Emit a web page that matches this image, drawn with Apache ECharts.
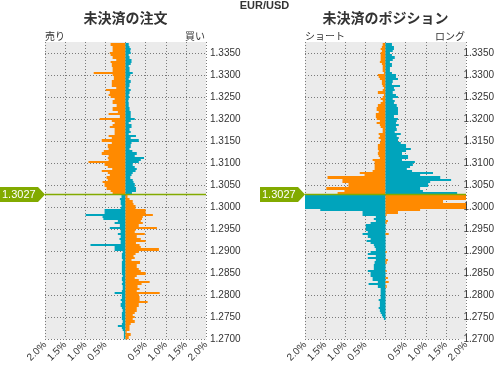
<!DOCTYPE html>
<html><head><meta charset="utf-8">
<script src="https://cdn.jsdelivr.net/npm/echarts@6/dist/echarts.min.js"></script>
<style>html,body{margin:0;padding:0;background:#fff}#c{width:497px;height:365px}</style>
</head><body><div id="c"></div>
<script>
const pair = 'EUR/USD';
const titleOrders = '未決済の注文';
const titlePositions = '未決済のポジション';
const sideLabels = ['売り', '買い', 'ショート', 'ロング'];
const currentPrice = 1.3027;
const priceTickMin = 1.2700, priceTickMax = 1.3350, priceTickStep = 0.005;
const pctMin = -2, pctMax = 2, pctStep = 0.5;

// price buckets above the current price (top -> down)
const levelsAbove = [1.3370,1.3365,1.3360,1.3355,1.3350,1.3345,1.3340,1.3335,1.3330,1.3325,
1.3320,1.3315,1.3310,1.3305,1.3300,1.3295,1.3290,1.3285,1.3280,1.3275,
1.3270,1.3265,1.3260,1.3255,1.3250,1.3245,1.3240,1.3235,1.3230,1.3225,
1.3220,1.3215,1.3210,1.3205,1.3200,1.3195,1.3190,1.3185,1.3180,1.3175,
1.3170,1.3165,1.3160,1.3155,1.3150,1.3145,1.3140,1.3135,1.3130,1.3125,
1.3120,1.3115,1.3110,1.3105,1.3100,1.3095,1.3090,1.3085,1.3080,1.3075,
1.3070,1.3065,1.3060,1.3055,1.3050,1.3045,1.3040,1.3035,1.3030];
// price buckets below the current price (top -> down)
const levelsBelow = [1.3025,1.3020,1.3015,1.3010,1.3005,1.3000,1.2995,1.2990,1.2985,1.2980,
1.2975,1.2970,1.2965,1.2960,1.2955,1.2950,1.2945,1.2940,1.2935,1.2930,
1.2925,1.2920,1.2915,1.2910,1.2905,1.2900,1.2895,1.2890,1.2885,1.2880,
1.2875,1.2870,1.2865,1.2860,1.2855,1.2850,1.2845,1.2840,1.2835,1.2830,
1.2825,1.2820,1.2815,1.2810,1.2805,1.2800,1.2795,1.2790,1.2785,1.2780,
1.2775,1.2770,1.2765,1.2760,1.2755,1.2750,1.2745,1.2740,1.2735,1.2730,
1.2725,1.2720,1.2715,1.2710,1.2705,1.2700,1.2695];

// 未決済の注文 (%), above price: orange to the left (sell), teal to the right (buy)
const orderSellAbove = [.37,.32,.32,.32,.39,.37,.32,.23,.37,.34,
.34,.32,.32,.79,.32,.29,.29,.34,.34,.34,
.23,.49,.39,.42,.37,.27,.32,.32,.22,.32,
.32,.19,.42,.14,.64,.34,.27,.32,.39,.27,
.27,.27,.42,.34,.59,.34,.44,.44,.42,.54,
.59,.42,.44,.42,.92,.52,.44,.33,.59,.44,
.39,.47,.44,.57,.52,.52,.47,.37,.32];
const orderBuyAbove = [.08,.10,.13,.12,.13,.08,.10,.15,.15,.13,
.08,.10,.10,.18,.12,.10,.08,.13,.10,.10,
.08,.13,.10,.08,.10,.08,.07,.08,.08,.10,
.10,.13,.13,.13,.23,.13,.08,.15,.15,.10,
.13,.08,.26,.13,.33,.15,.13,.13,.10,.17,
.28,.23,.46,.38,.33,.18,.23,.28,.25,.18,
.15,.12,.18,.20,.23,.23,.26,.26,.16];
// below price: teal to the left (sell), orange to the right (buy)
const orderSellBelow = [.10,.10,.14,.12,.12,.10,.12,.52,.52,.99,
.57,.55,.19,.27,.14,.39,.12,.12,.19,.12,
.15,.12,.12,.87,.27,.27,.07,.09,.09,.09,
.07,.09,.09,.09,.09,.09,.09,.07,.09,.09,
.07,.09,.07,.07,.09,.27,.09,.09,.12,.09,
.12,.12,.09,.07,.09,.09,.09,.09,.07,.09,
.19,.09,.07,.04,.04,.04,.04];
const orderBuyBelow = [.05,.05,.10,.18,.20,.25,.25,.50,.50,.68,
.43,.41,.38,.43,.33,.78,.25,.23,.48,.28,
.38,.50,.26,.35,.38,.83,.33,.25,.20,.23,
.15,.36,.28,.28,.33,.38,.50,.28,.23,.33,
.60,.40,.30,.35,.28,.85,.33,.35,.35,.55,
.33,.33,.28,.28,.23,.18,.23,.18,.23,.13,
.10,.10,.10,.03,.13,.08,.08];

// 未決済のポジション (%)
const posShortAbove = [.07,.09,.12,.09,.12,.12,.12,.12,.14,.09,
.07,.07,.07,.04,.19,.17,.14,.09,.09,.07,
.04,.07,.19,.04,.07,.12,.07,.12,.19,.22,
.22,.17,.24,.24,.22,.14,.22,.14,.12,.07,
.07,.17,.14,.17,.12,.14,.19,.19,.19,.17,
.19,.17,.14,.32,.27,.27,.27,.27,.32,.64,
.52,1.44,1.07,1.07,.92,.92,1.47,1.02,1.19];
const posLongAbove = [.16,.21,.21,.18,.11,.16,.23,.18,.11,.16,
.16,.11,.11,.16,.26,.26,.31,.18,.16,.36,
.21,.23,.18,.26,.31,.18,.23,.21,.28,.31,
.31,.31,.31,.21,.31,.28,.26,.33,.26,.28,
.23,.38,.28,.33,.31,.38,.51,.51,.63,.51,
.41,.56,.56,.41,.73,.68,.61,.53,.66,1.18,
.86,1.36,1.63,1.11,1.06,1.06,.86,.93,1.78];
const posLongBelow = [2.2,2.6,3.1,2.4,2.9,2.3,2.1,1.62,.57,.57,
.24,.29,.24,.37,.49,.49,.49,.44,.57,.44,
.37,.47,.37,.29,.27,.24,.37,.44,.24,.44,
.24,.27,.29,.29,.29,.44,.37,.37,.32,.32,
.19,.42,.19,.12,.12,.12,.12,.12,.17,.14,
.14,.14,.17,.14,.12,.09,.07,.04,0,0,
0,0,0,0,0,0,0];
const posShortBelow = [2.3,2.7,2.4,1.43,3.0,2.5,2.2,.86,.31,.03,
0,0,.06,.03,0,0,0,0,.08,0,
0,0,0,0,0,0,.03,0,0,0,
.06,.03,0,0,0,.03,0,0,.06,0,
.08,0,.03,0,0,0,0,0,0,0,
0,0,0,0,0,0,0,0,0,0,
0,0,0,0,0,0,0];

const ORANGE = '#ff8a00', TEAL = '#00a4bc', GREEN = '#82aa00';
const BUCKET_HALF = 0.00025;
const Y_MIN = 1.26943, Y_MAX = 1.33757;
const GRID_TOP = 42, GRID_H = 300;
const panels = [{left: 45, cx: 125.5}, {left: 305, cx: 385.5}];
const GRID_W = 161;

function rectItem(color, dir, zone) {
  return function (params, api) {
    const p = api.value(0), v = api.value(1);
    if (!(v > 0)) return null;
    let hi = p + BUCKET_HALF, lo = p - BUCKET_HALF;
    if (zone === 'above') lo = Math.max(lo, currentPrice); else hi = Math.min(hi, currentPrice);
    const a = api.coord([0, hi]);
    const b = api.coord([dir * v, lo]);
    const yT = Math.round(a[1]), yB = Math.round(b[1]);
    if (yB <= yT) return null;
    const x0 = Math.min(a[0], b[0]), w = Math.abs(b[0] - a[0]);
    return {type: 'rect', shape: {x: x0, y: yT, width: w, height: yB - yT}, style: {fill: color}};
  };
}
function barSeries(gi, levels, values, color, dir, zone) {
  return {type: 'custom', coordinateSystem: 'cartesian2d', xAxisIndex: gi, yAxisIndex: gi,
    clip: true, silent: true, z: 2, encode: {x: 1, y: 0},
    data: levels.map((p, i) => [p, values[i]]), renderItem: rectItem(color, dir, zone)};
}
function markerSeries(gi) {
  return {type: 'custom', coordinateSystem: 'cartesian2d', xAxisIndex: gi, yAxisIndex: gi,
    clip: false, silent: true, z: 5, encode: {x: 0, y: 1}, data: [[0, currentPrice]],
    renderItem: function (params, api) {
      const l = api.coord([pctMin, api.value(1)]);
      const r = api.coord([pctMax, api.value(1)]);
      const y = Math.round(l[1]) + 0.5, xl = l[0], xr = r[0];
      return {type: 'group', children: [
        {type: 'line', shape: {x1: xl, y1: y, x2: xr, y2: y}, style: {stroke: GREEN, lineWidth: 1.5}},
        {type: 'polygon', shape: {points: [[xl - 45, y - 7.5], [xl - 7, y - 7.5], [xl, y], [xl - 7, y + 7.5], [xl - 45, y + 7.5]]}, style: {fill: GREEN}},
        {type: 'text', style: {text: currentPrice.toFixed(4), x: xl - 43, y: y + 0.5, verticalAlign: 'middle', align: 'left', fill: '#fff', font: '11px "Liberation Sans", Arial, sans-serif'}}
      ]};
    }};
}

const grids = [], xAxes = [], yAxes = [];
const dotted = {show: true, lineStyle: {color: '#7a7a7a', width: 1, type: [1, 2]}};
const tickTopY = GRID_TOP + (Y_MAX - priceTickMax) / (Y_MAX - Y_MIN) * GRID_H;
const tickBotY = GRID_TOP + (Y_MAX - priceTickMin) / (Y_MAX - Y_MIN) * GRID_H;
panels.forEach((pn) => {
  const gi = grids.length;
  grids.push({left: pn.left, top: GRID_TOP, width: GRID_W, height: GRID_H, show: true, backgroundColor: '#ebebeb', borderWidth: 0, containLabel: false});
  xAxes.push({type: 'value', gridIndex: gi, min: pctMin, max: pctMax, interval: pctStep,
    axisLine: {show: false}, axisTick: {show: false}, splitLine: dotted,
    axisLabel: {rotate: 45, fontSize: 10, color: '#333', margin: 4, showMinLabel: true, showMaxLabel: true, hideOverlap: false,
      fontFamily: '"Liberation Sans", Arial, sans-serif',
      formatter: v => Math.abs(v) < 1e-9 ? '' : Math.abs(v).toFixed(1) + '%'}});
  yAxes.push({type: 'value', gridIndex: gi, min: Y_MIN, max: Y_MAX, show: false, splitLine: {show: false}});
  grids.push({left: pn.left, top: tickTopY, width: GRID_W, height: tickBotY - tickTopY, show: false, containLabel: false});
  xAxes.push({type: 'value', gridIndex: gi + 1, min: pctMin, max: pctMax, show: false, splitLine: {show: false}});
  yAxes.push({type: 'value', gridIndex: gi + 1, min: priceTickMin, max: priceTickMax, interval: priceTickStep, position: 'right',
    axisLine: {show: false}, axisTick: {show: false}, splitLine: dotted,
    axisLabel: {fontSize: 10, color: '#333', margin: 4, showMinLabel: true, showMaxLabel: true, hideOverlap: false,
      fontFamily: '"Liberation Sans", Arial, sans-serif', formatter: v => v.toFixed(4)}});
});

const series = [
  barSeries(0, levelsAbove, orderSellAbove, ORANGE, -1, 'above'),
  barSeries(0, levelsAbove, orderBuyAbove, TEAL, 1, 'above'),
  barSeries(0, levelsBelow, orderSellBelow, TEAL, -1, 'below'),
  barSeries(0, levelsBelow, orderBuyBelow, ORANGE, 1, 'below'),
  barSeries(2, levelsAbove, posShortAbove, ORANGE, -1, 'above'),
  barSeries(2, levelsAbove, posLongAbove, TEAL, 1, 'above'),
  barSeries(2, levelsBelow, posLongBelow, TEAL, -1, 'below'),
  barSeries(2, levelsBelow, posShortBelow, ORANGE, 1, 'below'),
  markerSeries(0), markerSeries(2)
];

const cjk = '"Noto Sans CJK JP", "Noto Sans", sans-serif';
const txt = (text, x, y, align, font) => ({type: 'text', silent: true, style: {text, x, y, align, verticalAlign: 'middle', fill: '#333', font}});
const graphic = [
  txt(pair, 264.5, 6, 'center', 'bold 11px "Liberation Sans", Arial, sans-serif'),
  txt(titleOrders, panels[0].cx, 18, 'center', 'bold 14px ' + cjk),
  txt(titlePositions, panels[1].cx, 18, 'center', 'bold 14px ' + cjk),
  txt(sideLabels[0], 45, 36, 'left', '10px ' + cjk),
  txt(sideLabels[1], 205, 36, 'right', '10px ' + cjk),
  txt(sideLabels[2], 305, 36, 'left', '10px ' + cjk),
  txt(sideLabels[3], 465, 36, 'right', '10px ' + cjk)
];

const chart = echarts.init(document.getElementById('c'), null, {renderer: 'canvas'});
chart.setOption({animation: false, backgroundColor: '#fff', grid: grids, xAxis: xAxes, yAxis: yAxes, series, graphic});
</script></body></html>
